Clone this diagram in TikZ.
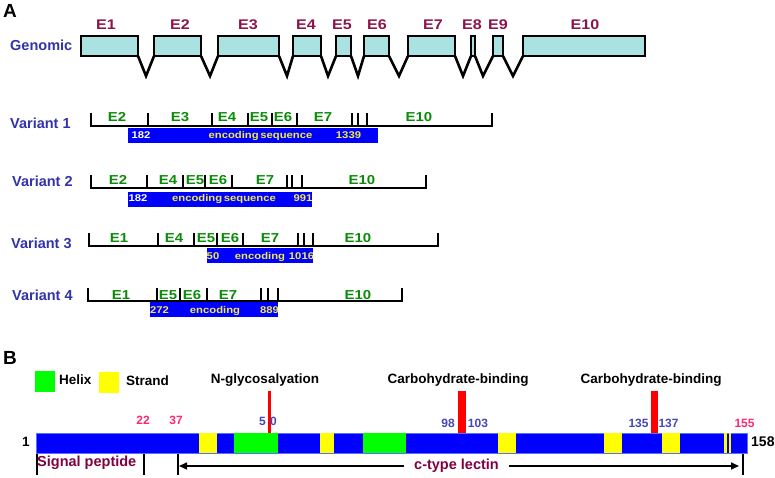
\documentclass[tikz,border=0pt]{standalone}
\usepackage{fontspec}
\setmainfont{Liberation Sans}
\newfontfamily\widefont[FakeStretch=1.15]{Liberation Sans}
\usetikzlibrary{arrows.meta}
\newcommand\myfs[1]{\fontsize{#1}{#1}\selectfont}
\definecolor{exred}{RGB}{140,20,75}
\definecolor{labblue}{RGB}{50,50,170}
\definecolor{exgreen}{RGB}{10,140,10}
\definecolor{boxcyan}{RGB}{170,226,226}
\definecolor{encblue}{RGB}{0,0,255}
\definecolor{encyellow}{RGB}{240,235,70}
\definecolor{numpink}{RGB}{255,40,110}
\definecolor{numblue}{RGB}{70,70,185}
\definecolor{maroonlab}{RGB}{128,0,64}
\definecolor{helixgreen}{RGB}{0,255,0}
\definecolor{strandyellow}{RGB}{255,255,0}
\definecolor{protblue}{RGB}{0,0,255}
\definecolor{protborder}{RGB}{90,110,255}
\begin{document}
\begin{tikzpicture}[x=1pt,y=-1pt,
  panel/.style={font=\myfs{19}\bfseries, anchor=base west, inner sep=0},
  rowlab/.style={text=labblue, font=\myfs{14.5}\bfseries, anchor=base west, inner sep=0},
  gexlab/.style={text=exred, font=\widefont\myfs{14}\bfseries, anchor=base, inner sep=0},
  vexlab/.style={text=exgreen, font=\widefont\myfs{13}\bfseries, anchor=base, inner sep=0},
  exonbox/.style={draw=black, line width=2.6pt, fill=boxcyan, inner sep=0, outer sep=0, minimum height=20pt, anchor=north west},
  intron/.style={line width=2.6pt},
  trline/.style={line width=2.2pt},
  encbar/.style={fill=encblue, inner sep=0, outer sep=0, anchor=north west},
  enclab/.style={text=encyellow, font=\widefont\myfs{9.8}\bfseries, anchor=base, inner sep=0},
  feat/.style={inner sep=0, outer sep=0, anchor=north west, minimum height=20pt},
  sitelab/.style={font=\myfs{13.5}\bfseries, anchor=base, inner sep=0},
  numlab/.style={font=\myfs{12}\bfseries, anchor=base, inner sep=0},
  redmark/.style={fill=red, inner sep=0, outer sep=0, anchor=south, minimum height=42pt},
  domlab/.style={text=maroonlab, font=\myfs{14.5}\bfseries, inner sep=0},
  domtick/.style={line width=2pt},
  legbox/.style={inner sep=0, outer sep=0, anchor=north west, minimum width=20pt, minimum height=21pt},
  leglab/.style={font=\myfs{13.5}\bfseries, anchor=base west, inner sep=0}
]
\useasboundingbox (0,0) rectangle (775,478);

% ---------------- Panel A ----------------
\node[panel] (pa) at (3,18) {A};
\node[rowlab] (genlab) at (10,50.7) {Genomic};

\foreach \i/\a/\b in {1/80/139,2/153/202,3/217/280,4/292/322,5/335/352,6/363/390,7/407/456,8/470/476,9/492/504,10/522/646}
  \node[exonbox, minimum width={\b-\a-2}] (g\i) at (\a+1,36) {};
\foreach \i/\j/\v in {1/2/146,2/3/210,3/4/287,4/5/328,5/6/358,6/7/399,7/8/463,8/9/483,9/10/513}{
  \coordinate (v\i) at (\v,76);
  \draw[intron] (g\i.south east) -- (v\i) -- (g\j.south west);
}
\foreach \i/\x in {1/106,2/180,3/248,4/306,5/342,6/377,7/433,8/472,9/498,10/585}
  \node[gexlab] (gl\i) at (\x,29.5) {E\i};

% Variant 1
\node[rowlab] (var1) at (10,128.5) {Variant 1};
\draw[trline] (91,113) -- (91,126) -- (492,126) -- (492,113);
\foreach \x in {148,212,248,272,297,352,358,367} \draw[trline] (\x,113) -- (\x,126);
\foreach \t/\x in {E2/117,E3/180,E4/227,E5/259,E6/283,E7/323,E10/419}
  \node[vexlab] at (\x,121.7) {\t};
\node[encbar, minimum width=250pt, minimum height=15pt] (b1) at (128,128) {};
\node[enclab, text=white] at (141,138.3) {182};
\node[enclab] at (260.5,138.3) {encoding\,sequence};
\node[enclab] at (348.5,138.3) {1339};

% Variant 2
\node[rowlab] (var2) at (12,186.5) {Variant 2};
\draw[trline] (91,175) -- (91,188) -- (426,188) -- (426,175);
\foreach \x in {147,183,205,232,287,292,302} \draw[trline] (\x,175) -- (\x,188);
\foreach \t/\x in {E2/118,E4/168,E5/195,E6/218,E7/265,E10/362}
  \node[vexlab] at (\x,184.5) {\t};
\node[encbar, minimum width=184pt, minimum height=15pt] (b2) at (128,192) {};
\node[enclab, text=white] at (138,201.5) {182};
\node[enclab] at (224,201.5) {encoding\,sequence};
\node[enclab] at (303,201.5) {991};

% Variant 3
\node[rowlab] (var3) at (11,248.5) {Variant 3};
\draw[trline] (89,233) -- (89,246) -- (438,246) -- (438,233);
\foreach \x in {158,194,217,243,298,304,313} \draw[trline] (\x,233) -- (\x,246);
\foreach \t/\x in {E1/119,E4/174,E5/206,E6/230,E7/270,E10/358}
  \node[vexlab] at (\x,242.7) {\t};
\node[encbar, minimum width=106pt, minimum height=15pt] (b3) at (207,248) {};
\node[enclab] at (213,259.5) {50};
\node[enclab] at (260,259.5) {encoding};
\node[enclab] at (301.5,259.5) {1016};

% Variant 4
\node[rowlab] (var4) at (12,300.5) {Variant 4};
\draw[trline] (88,288) -- (88,301) -- (402,301) -- (402,288);
\foreach \x in {157,180,207,261,268,278} \draw[trline] (\x,288) -- (\x,301);
\foreach \t/\x in {E1/121,E5/168,E6/192,E7/228,E10/358}
  \node[vexlab] at (\x,299) {\t};
\node[encbar, minimum width=128pt, minimum height=15pt] (b4) at (150,302) {};
\node[enclab] at (159.5,313.8) {272};
\node[enclab] at (215,313.8) {encoding};
\node[enclab] at (269.5,313.8) {889};

% ---------------- Panel B ----------------
\node[panel] (pb) at (3,364) {B};
\node[legbox, fill=helixgreen] (lh) at (35,371) {};
\node[leglab] (lht) at (59,384) {Helix};
\node[legbox, fill=strandyellow] (ls) at (99,372) {};
\node[leglab] (lst) at (126,385.5) {Strand};

\node[sitelab] (ngl) at (265,383) {N-glycosalyation};
\node[sitelab] (cb1) at (458,383) {Carbohydrate-binding};
\node[sitelab] (cb2) at (651,383) {Carbohydrate-binding};

\node[draw=protborder, line width=0.8pt, fill=protblue, inner sep=0, outer sep=0, anchor=north west, minimum width=711pt, minimum height=20pt] (prot) at (36,433) {};
\foreach \a/\b in {199/217,320/334,498/516,604/622,662/680,724/726.5,729/731}
  \node[feat, fill=strandyellow, minimum width={\b-\a}] at (\a,433) {};
\foreach \a/\b in {234/278,363/406}
  \node[feat, fill=helixgreen, minimum width={\b-\a}] at (\a,433) {};

\node[redmark, minimum width=3pt] (rm1) at (269.5,433) {};
\node[redmark, minimum width=8pt] (rm2) at (462,433) {};
\node[redmark, minimum width=7.5pt] (rm3) at (654.5,433) {};

\node[numlab, text=numpink] at (143,424) {22};
\node[numlab, text=numpink] at (176,424) {37};
\node[numlab, text=numblue] at (262.5,425) {5};
\node[numlab, text=numblue] at (273.5,425) {0};
\node[numlab, text=numblue] at (448,427) {98};
\node[numlab, text=numblue] at (478,427) {103};
\node[numlab, text=numblue] at (638.5,427) {135};
\node[numlab, text=numblue] at (668.5,427) {137};
\node[numlab, text=numpink] at (744.5,427) {155};
\node[font=\myfs{13.5}\bfseries, anchor=base, inner sep=0] (n1) at (26,446) {1};
\node[font=\myfs{14}\bfseries, anchor=base west, inner sep=0] (n158) at (751,446.5) {158};

% domains
\draw[domtick] (36.5,454) -- (36.5,475);
\draw[domtick] (144,454) -- (144,475);
\draw[domtick] (178,454) -- (178,475);
\draw[domtick] (743,454) -- (743,475);
\node[domlab, anchor=base west] (sig) at (37,466.5) {Signal peptide};
\node[domlab, anchor=base, inner xsep=10pt] (ctl) at (456.5,469) {c-type lectin};
\coordinate (aL) at (179,466);
\coordinate (aR) at (739,466);
\draw[line width=1.6pt, {Triangle[length=8pt,width=7pt]}-] (aL) -- (ctl.west |- aL);
\draw[line width=1.6pt, -{Triangle[length=8pt,width=7pt]}] (ctl.east |- aR) -- (aR);
\end{tikzpicture}
\end{document}
